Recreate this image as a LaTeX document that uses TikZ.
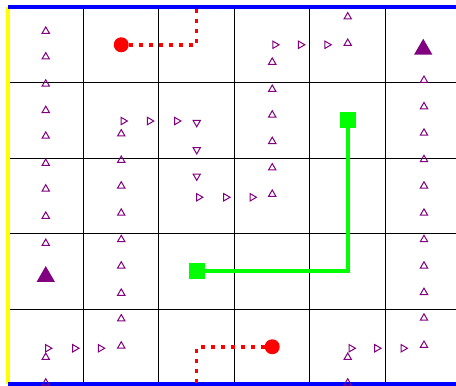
\documentclass[tikz,border=0pt]{standalone}
\usepackage{tikz}
\usetikzlibrary{shapes.geometric}
\definecolor{wallblue}{RGB}{0,0,255}
\definecolor{wallyellow}{RGB}{255,255,0}
\definecolor{goalred}{RGB}{255,0,0}
\definecolor{pathgreen}{RGB}{0,255,0}
\definecolor{markpurple}{RGB}{128,0,128}

\begin{document}
\begin{tikzpicture}[x=75.5pt, y=75.5pt, line join=miter,
	upmark/.style={regular polygon, regular polygon sides=3, draw=markpurple, line width=1pt, inner sep=0pt, minimum size=8.5pt},
	rightmark/.style={upmark, shape border rotate=-90},
	downmark/.style={upmark, shape border rotate=180},
	bigmark/.style={regular polygon, regular polygon sides=3, fill=markpurple, inner sep=0pt, minimum size=21pt},
	reddot/.style={circle, fill=goalred, inner sep=0pt, minimum size=15pt},
	greensq/.style={rectangle, fill=pathgreen, inner sep=0pt, minimum size=16pt}]

		% picture frame
		\useasboundingbox (-0.106,-0.007) rectangle (5.934,5.093);
		\clip (-0.106,-0.007) rectangle (5.934,5.093);

		% grid and walls
		\draw [black,line width=1pt,step=75.5pt] (0,0) grid (6,5);
		\draw [wallyellow,line width=4pt] (0,0)--(0,5);
		\draw [wallblue,line width=4pt] (0,5)--(6.2,5);
		\draw [wallblue,line width=4pt] (0,0)--(6.2,0);

		% red goals
		\node[reddot] (rtop) at (1.5,4.5) {};
		\node[reddot] (rbot) at (3.5,0.5) {};
		\coordinate (rtopend) at (2.5,5);
		\coordinate (rbotend) at (2.5,0);
		\draw [goalred,line width=3.5pt,dash pattern=on 4pt off 6pt] (rtop) -| (rtopend);
		\draw [goalred,line width=3.5pt,dash pattern=on 4pt off 6pt] (rbot) -| (rbotend);

		% green route
		\node[greensq] (gstart) at (4.5,3.5) {};
		\node[greensq] (gend) at (2.5,1.5) {};
		\draw [pathgreen,line width=4pt] (gstart) |- (gend);

		% big markers
		\node[bigmark] (bigl) at (0.5,1.43) {};
		\node[bigmark] (bigr) at (5.5,4.44) {};

		% left column
		\node[upmark] (a1) at (0.5,1.87) {};
		\node[upmark] (a2) at (0.5,2.23) {};
		\node[upmark] (a3) at (0.5,2.59) {};
		\node[upmark] (a4) at (0.5,2.93) {};
		\node[upmark] (a5) at (0.5,3.29) {};
		\node[upmark] (a6) at (0.5,3.63) {};
		\node[upmark] (a7) at (0.5,3.98) {};
		\node[upmark] (a8) at (0.5,4.34) {};
		\node[upmark] (a9) at (0.5,4.68) {};

		% left trajectory
		\node[upmark] (b1) at (0.5,0.02) {};
		\node[upmark] (b2) at (0.5,0.36) {};
		\node[rightmark] (b3) at (0.525,0.48) {};
		\node[rightmark] (b4) at (0.885,0.48) {};
		\node[rightmark] (b5) at (1.225,0.48) {};
		\node[upmark] (b6) at (1.5,0.51) {};
		\node[upmark] (b7) at (1.5,0.87) {};
		\node[upmark] (b8) at (1.5,1.21) {};
		\node[upmark] (b9) at (1.5,1.57) {};
		\node[upmark] (b10) at (1.5,1.92) {};
		\node[upmark] (b11) at (1.5,2.27) {};
		\node[upmark] (b12) at (1.5,2.63) {};
		\node[upmark] (b13) at (1.5,2.97) {};
		\node[upmark] (b14) at (1.5,3.32) {};
		\node[rightmark] (b15) at (1.525,3.49) {};
		\node[rightmark] (b16) at (1.875,3.49) {};
		\node[rightmark] (b17) at (2.235,3.49) {};
		\node[downmark] (b18) at (2.5,3.47) {};
		\node[downmark] (b19) at (2.5,3.11) {};
		\node[downmark] (b20) at (2.5,2.76) {};
		\node[rightmark] (b21) at (2.525,2.48) {};
		\node[rightmark] (b22) at (2.885,2.48) {};
		\node[rightmark] (b23) at (3.235,2.48) {};
		\node[upmark] (b24) at (3.5,2.52) {};
		\node[upmark] (b25) at (3.5,2.87) {};
		\node[upmark] (b26) at (3.5,3.22) {};
		\node[upmark] (b27) at (3.5,3.57) {};
		\node[upmark] (b28) at (3.5,3.91) {};
		\node[upmark] (b29) at (3.5,4.27) {};
		\node[rightmark] (b30) at (3.535,4.50) {};
		\node[rightmark] (b31) at (3.875,4.50) {};
		\node[rightmark] (b32) at (4.225,4.50) {};
		\node[upmark] (b33) at (4.5,4.52) {};
		\node[upmark] (b34) at (4.5,4.87) {};

		% right trajectory
		\node[upmark] (c1) at (4.5,0.02) {};
		\node[upmark] (c2) at (4.5,0.36) {};
		\node[rightmark] (c3) at (4.545,0.48) {};
		\node[rightmark] (c4) at (4.885,0.48) {};
		\node[rightmark] (c5) at (5.235,0.48) {};
		\node[upmark] (c6) at (5.51,0.52) {};
		\node[upmark] (c7) at (5.51,0.88) {};
		\node[upmark] (c8) at (5.51,1.22) {};
		\node[upmark] (c9) at (5.51,1.57) {};
		\node[upmark] (c10) at (5.51,1.92) {};
		\node[upmark] (c11) at (5.51,2.27) {};
		\node[upmark] (c12) at (5.51,2.63) {};
		\node[upmark] (c13) at (5.51,2.98) {};
		\node[upmark] (c14) at (5.51,3.33) {};
		\node[upmark] (c15) at (5.51,3.68) {};
		\node[upmark] (c16) at (5.51,4.03) {};
\end{tikzpicture}
\end{document}
